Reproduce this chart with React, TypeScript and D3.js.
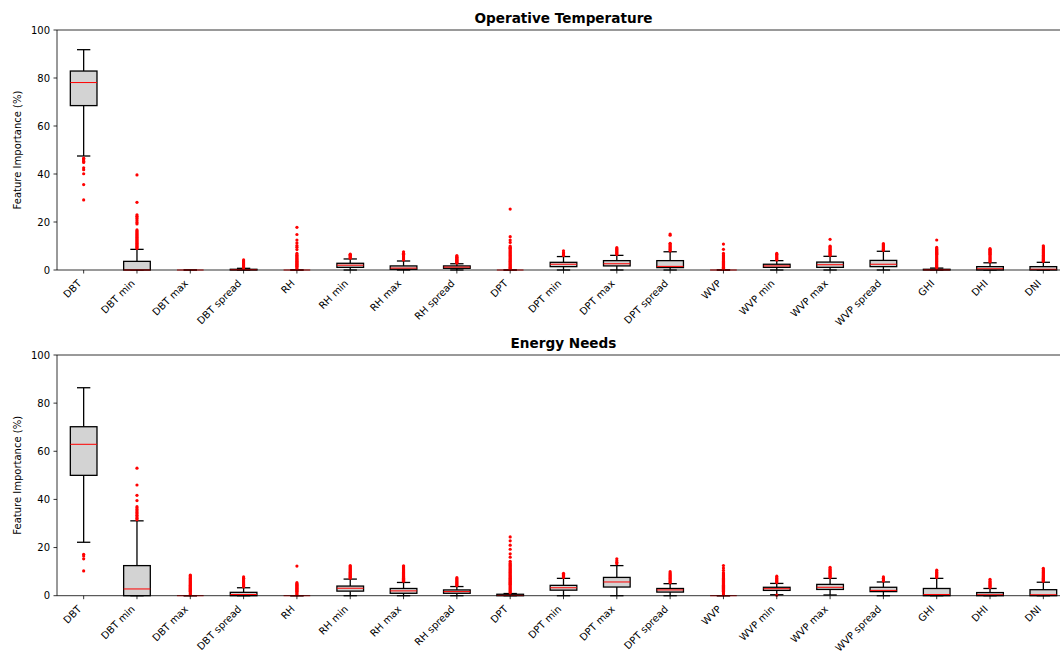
import React from "react";
import * as d3 from "d3";

const categories = ["DBT", "DBT min", "DBT max", "DBT spread", "RH", "RH min", "RH max", "RH spread", "DPT", "DPT min", "DPT max", "DPT spread", "WVP", "WVP min", "WVP max", "WVP spread", "GHI", "DHI", "DNI"];
const yTicks = [0, 20, 40, 60, 80, 100];

// Operative Temperature
const opQ1 = [68.5, 0, 0, 0, 0, 1.1, 0.3, 0.7, 0, 1.4, 1.7, 1.0, 0, 1.1, 1.1, 1.4, 0, 0, 0];
const opMed = [78.1, 0, 0, 0.1, 0, 2.0, 0.8, 1.2, 0, 2.4, 2.6, 1.5, 0, 1.7, 2.2, 2.4, 0.05, 0.5, 0.3];
const opQ3 = [82.9, 3.6, 0, 0.3, 0, 2.8, 1.7, 1.7, 0, 3.2, 3.9, 3.9, 0, 2.4, 3.3, 4.0, 0.3, 1.4, 1.4];
const opLo = [47.5, 0, 0, 0, 0, 0, 0, 0, 0, 0, 0, 0, 0, 0, 0, 0, 0, 0, 0];
const opHi = [91.8, 8.6, 0, 0.7, 0, 4.6, 3.75, 2.6, 0, 5.6, 6.1, 7.6, 0, 3.9, 5.7, 7.8, 0.8, 3.0, 3.2];
const opFliers = [
  [46.6, 46.2, 45.8, 45.3, 44.8, 42.6, 41.8, 40.1, 35.6, 29.2],
  [9.0, 9.4, 9.8, 10.2, 10.6, 11.0, 11.4, 11.8, 12.2, 12.6, 13.0, 13.4, 13.8, 14.2, 14.6, 15.0, 15.4, 15.8, 16.2, 16.7, 19.2, 19.8, 20.5, 21.2, 21.8, 22.4, 23.0, 28.2, 39.6],
  [],
  [0.9, 1.3, 1.7, 2.1, 2.5, 2.9, 3.3, 3.7, 4.2],
  [0.4, 0.8, 1.2, 1.6, 2.0, 2.4, 2.8, 3.2, 3.6, 4.0, 4.4, 4.8, 5.2, 5.6, 6.0, 6.4, 6.9, 8.5, 9.5, 10.2, 11.3, 12.5, 14.8, 17.8],
  [4.9, 5.2, 5.5, 5.8, 6.1, 6.4, 6.6],
  [4.2, 4.6, 5.0, 5.4, 5.8, 6.2, 6.6, 7.0, 7.6],
  [2.9, 3.2, 3.5, 3.8, 4.1, 4.4, 4.7, 5.0, 5.3, 5.6, 6.0],
  [0.3, 0.7, 1.1, 1.5, 1.9, 2.3, 2.7, 3.1, 3.5, 3.9, 4.3, 4.7, 5.1, 5.5, 5.9, 6.3, 6.7, 7.1, 7.5, 7.9, 8.3, 8.7, 9.1, 9.5, 10.0, 11.5, 12.5, 13.9, 25.4],
  [6.0, 6.4, 6.8, 7.2, 8.0],
  [6.5, 6.9, 7.3, 7.7, 8.1, 8.5, 8.9, 9.3],
  [8.0, 8.4, 8.8, 9.2, 9.6, 10.0, 10.4, 10.8, 11.1, 14.5, 15.0],
  [0.3, 0.7, 1.1, 1.5, 1.9, 2.3, 2.7, 3.1, 3.5, 3.9, 4.3, 4.7, 5.1, 5.5, 5.9, 6.3, 6.9, 8.6, 10.8],
  [4.2, 4.6, 5.0, 5.4, 5.8, 6.2, 6.6, 6.9],
  [6.1, 6.5, 6.9, 7.3, 7.7, 8.1, 8.5, 8.9, 9.3, 9.7, 10.0, 12.8],
  [8.2, 8.6, 9.0, 9.4, 9.8, 10.2, 10.6, 11.0],
  [1.0, 1.4, 1.8, 2.2, 2.6, 3.0, 3.4, 3.8, 4.2, 4.6, 5.0, 5.4, 5.8, 6.2, 6.6, 7.0, 7.4, 7.8, 8.2, 8.6, 9.0, 9.4, 12.5],
  [3.4, 3.8, 4.2, 4.6, 5.0, 5.4, 5.8, 6.2, 6.6, 7.0, 7.4, 7.8, 8.2, 8.6, 8.9],
  [3.6, 4.0, 4.4, 4.8, 5.2, 5.6, 6.0, 6.4, 6.8, 7.2, 7.6, 8.0, 8.4, 8.8, 9.2, 9.6, 10.1],
];

// Energy Needs
const enQ1 = [50.0, 0, 0, 0, 0, 1.9, 1.0, 1.0, 0, 2.3, 3.6, 1.5, 0, 2.2, 2.6, 1.7, 0, 0, 0];
const enMed = [62.9, 2.8, 0, 0.5, 0, 3.1, 2.0, 1.7, 0.1, 3.3, 5.7, 2.4, 0, 2.9, 3.5, 2.2, 0.5, 0.4, 0.4];
const enQ3 = [70.2, 12.5, 0, 1.4, 0, 4.0, 3.0, 2.4, 0.6, 4.3, 7.6, 3.0, 0, 3.5, 4.7, 3.5, 3.0, 1.3, 2.5];
const enLo = [22.2, 0, 0, 0, 0, 0, 0, 0, 0, 0, 0, 0, 0, 0.4, 0.3, 0, 0, 0, 0];
const enHi = [86.4, 31.1, 0, 3.3, 0, 6.9, 5.5, 3.8, 0.9, 7.2, 12.5, 5.0, 0, 5.1, 7.2, 5.7, 7.2, 3.0, 5.6];
const enFliers = [
  [17.2, 16.5, 15.3, 10.3],
  [31.6, 32.2, 32.8, 33.4, 34.0, 34.6, 35.2, 35.8, 36.4, 37.0, 39.5, 41.7, 46.0, 53.0],
  [0.3, 0.7, 1.1, 1.5, 1.9, 2.3, 2.7, 3.1, 3.5, 3.9, 4.3, 4.7, 5.1, 5.5, 5.9, 6.3, 6.7, 7.1, 7.5, 7.9, 8.3, 8.6],
  [3.7, 4.1, 4.5, 4.9, 5.3, 5.7, 6.1, 6.5, 6.9, 7.3, 7.8],
  [0.3, 0.7, 1.1, 1.5, 1.9, 2.3, 2.7, 3.1, 3.5, 3.9, 4.3, 4.7, 5.0, 5.4, 12.3],
  [7.3, 7.7, 8.1, 8.5, 8.9, 9.3, 9.7, 10.1, 10.5, 10.9, 11.3, 11.7, 12.1, 12.5],
  [6.0, 6.4, 6.8, 7.2, 7.6, 8.0, 8.4, 8.8, 9.2, 9.6, 10.0, 10.4, 10.8, 11.2, 11.6, 12.0, 12.4],
  [4.2, 4.6, 5.0, 5.4, 5.8, 6.2, 6.6, 7.0, 7.5],
  [1.2, 1.6, 2.0, 2.4, 2.8, 3.2, 3.6, 4.0, 4.4, 4.8, 5.2, 5.6, 6.0, 6.4, 6.8, 7.2, 7.6, 8.0, 8.4, 8.8, 9.2, 9.6, 10.0, 10.4, 10.8, 11.2, 11.6, 12.0, 12.4, 12.8, 13.2, 13.6, 14.3, 16.0, 17.4, 19.3, 21.0, 22.8, 24.4],
  [7.6, 8.0, 8.4, 8.8, 9.3],
  [13.3, 13.9, 14.5, 15.3],
  [5.4, 5.8, 6.2, 6.6, 7.0, 7.4, 7.8, 8.2, 8.6, 9.0, 9.4, 10.0],
  [0.3, 0.7, 1.1, 1.5, 1.9, 2.3, 2.7, 3.1, 3.5, 3.9, 4.3, 4.7, 5.1, 5.5, 5.9, 6.3, 6.7, 7.1, 7.5, 7.9, 8.3, 8.7, 9.1, 9.5, 10.5, 11.5, 12.5],
  [0.2, 5.5, 5.9, 6.3, 6.7, 7.1, 7.5, 8.1],
  [7.6, 8.0, 8.4, 8.8, 9.2, 9.6, 10.0, 10.4, 10.8, 11.2, 11.8],
  [6.1, 6.5, 6.9, 7.3, 7.8],
  [7.6, 8.0, 8.4, 8.8, 9.2, 9.6, 10.0, 10.6],
  [3.4, 3.8, 4.2, 4.6, 5.0, 5.4, 5.8, 6.2, 6.8],
  [6.0, 6.4, 6.8, 7.2, 7.6, 8.0, 8.4, 8.8, 9.2, 9.6, 10.0, 10.4, 10.8, 11.4],
];

const W = 1060;
const H = 654;
const left = 57;
const right = 1070;
const font = "DejaVu Sans, sans-serif";

type PanelProps = {
  title: string;
  top: number;
  bottom: number;
  q1: number[];
  med: number[];
  q3: number[];
  lo: number[];
  hi: number[];
  fliers: number[][];
};

function Panel({ title, top, bottom, q1, med, q3, lo, hi, fliers }: PanelProps) {
  const x = d3.scaleBand<string>().domain(categories).range([left, right]).padding(0);
  const y = d3.scaleLinear().domain([0, 100]).range([bottom, top]);
  const bw = x.bandwidth() * 0.5;
  const cw = x.bandwidth() * 0.25;
  const cx = (c: string) => (x(c) as number) + x.bandwidth() / 2;
  return (
    <g>
      {categories.map((c, i) => {
        const xc = cx(c);
        return (
          <g key={c}>
            <line x1={xc} x2={xc} y1={y(q1[i])} y2={y(lo[i])} stroke="#000" strokeWidth={1.3} />
            <line x1={xc} x2={xc} y1={y(q3[i])} y2={y(hi[i])} stroke="#000" strokeWidth={1.3} />
            <line x1={xc - cw / 2} x2={xc + cw / 2} y1={y(lo[i])} y2={y(lo[i])} stroke="#000" strokeWidth={1.3} />
            <line x1={xc - cw / 2} x2={xc + cw / 2} y1={y(hi[i])} y2={y(hi[i])} stroke="#000" strokeWidth={1.3} />
            <rect x={xc - bw / 2} y={y(q3[i])} width={bw} height={Math.max(0, y(q1[i]) - y(q3[i]))} fill="#d3d3d3" stroke="#000" strokeWidth={1.3} />
            <line x1={xc - bw / 2} x2={xc + bw / 2} y1={y(med[i])} y2={y(med[i])} stroke="#ff0000" strokeWidth={1} />
            {fliers[i].map((v, j) => (
              <circle key={j} cx={xc} cy={y(v)} r={1.6} fill="#ff0000" />
            ))}
          </g>
        );
      })}
      {/* spines */}
      <line x1={left} x2={right} y1={top} y2={top} stroke="#000" strokeWidth={0.8} />
      <line x1={left} x2={right} y1={bottom} y2={bottom} stroke="#000" strokeWidth={0.8} />
      <line x1={left} x2={left} y1={top} y2={bottom} stroke="#000" strokeWidth={0.8} />
      <line x1={right} x2={right} y1={top} y2={bottom} stroke="#000" strokeWidth={0.8} />
      {yTicks.map((t) => (
        <g key={t}>
          <line x1={left - 3.5} x2={left} y1={y(t)} y2={y(t)} stroke="#000" strokeWidth={0.8} />
          <text x={left - 7} y={y(t)} dy="0.35em" textAnchor="end" fontSize={10} fontFamily={font} fill="#000">
            {t}
          </text>
        </g>
      ))}
      {categories.map((c) => {
        const xc = cx(c);
        return (
          <g key={"t" + c}>
            <line x1={xc} x2={xc} y1={bottom} y2={bottom + 3.5} stroke="#000" strokeWidth={0.8} />
            <text
              transform={`translate(${xc - 1.5},${bottom + 14}) rotate(-45)`}
              textAnchor="end"
              fontSize={10}
              fontFamily={font}
              fill="#000"
            >
              {c}
            </text>
          </g>
        );
      })}
      <text
        transform={`translate(17,${(top + bottom) / 2}) rotate(-90)`}
        textAnchor="middle"
        dy="0.35em"
        fontSize={10}
        fontFamily={font}
        fill="#000"
      >
        Feature Importance (%)
      </text>
      <text x={(left + right) / 2} y={top - 7} textAnchor="middle" fontSize={13.6} fontWeight="bold" fontFamily={font} fill="#000">
        {title}
      </text>
    </g>
  );
}

export default function App() {
  return (
    <svg width={W} height={H} style={{ display: "block", position: "absolute", left: 0, top: 0, background: "#fff" }}>
      <rect width={W} height={H} fill="#fff" />
      <Panel title="Operative Temperature" top={30} bottom={270} q1={opQ1} med={opMed} q3={opQ3} lo={opLo} hi={opHi} fliers={opFliers} />
      <Panel title="Energy Needs" top={355} bottom={595.7} q1={enQ1} med={enMed} q3={enQ3} lo={enLo} hi={enHi} fliers={enFliers} />
    </svg>
  );
}
